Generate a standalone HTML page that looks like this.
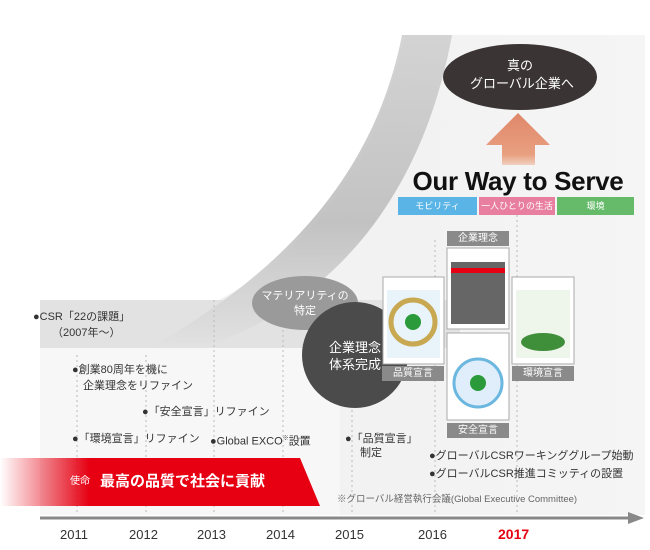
<!DOCTYPE html>
<html><head><meta charset="utf-8">
<style>
body{margin:0;width:650px;height:550px;overflow:hidden;background:#fff;font-family:"Liberation Sans","Noto Sans CJK JP",sans-serif;}
.t{position:absolute;font-size:11px;color:#333;white-space:nowrap;line-height:14px}
.lb{position:absolute;background:#8a8a8a;color:#fff;font-size:10px;text-align:center;line-height:15px}
.y{position:absolute;top:527px;font-size:13px;color:#333}
</style></head><body>
<svg width="650" height="550" style="position:absolute;left:0;top:0">
<defs>
<linearGradient id="g1" x1="0" y1="0" x2="1" y2="0"><stop offset="0" stop-color="#eeeeee"/><stop offset="1" stop-color="#f5f5f5"/></linearGradient>
<linearGradient id="red" x1="0" y1="0" x2="1" y2="0"><stop offset="0" stop-color="#e60012" stop-opacity="0"/><stop offset="0.28" stop-color="#e60012"/><stop offset="1" stop-color="#e60012"/></linearGradient>
<linearGradient id="arr" x1="0" y1="0" x2="0" y2="1"><stop offset="0" stop-color="#e0876a"/><stop offset="0.8" stop-color="#e8a080"/><stop offset="1" stop-color="#f0d0c0"/></linearGradient>
<linearGradient id="band" x1="0" y1="0" x2="0" y2="1"><stop offset="0" stop-color="#d0d0d0"/><stop offset="0.6" stop-color="#bdbdbd"/><stop offset="1" stop-color="#e2e2e2"/></linearGradient>
</defs>
<path d="M405,35 L645,35 L645,515 L40,515 L40,350 C240,330 360,230 405,35 Z" fill="url(#g1)"/>
<rect x="40" y="348" width="300" height="167" fill="#f7f7f7"/>
<rect x="40" y="300" width="420" height="48" fill="#e2e2e2"/>
<path d="M150,348 C250,290 370,200 402,35 L452,35 C420,210 320,310 200,348 Z" fill="url(#band)" opacity="0.9"/>
<g stroke="#bbb" stroke-dasharray="2,3" stroke-width="1">
<line x1="77" y1="355" x2="77" y2="515"/><line x1="146" y1="355" x2="146" y2="515"/>
<line x1="214" y1="300" x2="214" y2="515"/><line x1="283" y1="300" x2="283" y2="515"/>
<line x1="352" y1="300" x2="352" y2="515"/><line x1="435" y1="240" x2="435" y2="515"/>
<line x1="517" y1="215" x2="517" y2="515"/>
</g>
<path d="M0,458 L300,458 L320,506 L0,506 Z" fill="url(#red)"/>
<line x1="40" y1="518" x2="632" y2="518" stroke="#888" stroke-width="3"/>
<path d="M628,512 L644,518 L628,524 Z" fill="#888"/>
<ellipse cx="305" cy="303" rx="53" ry="27" fill="#9a9a9a"/>
<circle cx="355" cy="355" r="53" fill="#4b4b4b"/>
<ellipse cx="520" cy="77" rx="77" ry="33" fill="#3a3434"/>
<path d="M486,145 L518,113 L550,145 L535,145 L535,165 L502,165 L502,145 Z" fill="url(#arr)"/>
<rect x="398" y="197" width="79" height="18" fill="#5ab4e5"/>
<rect x="479" y="197" width="76" height="18" fill="#e87fa0"/>
<rect x="557" y="197" width="77" height="18" fill="#66bb6a"/>
<rect x="383" y="277" width="61" height="87" fill="#fff" stroke="#aaa"/>
<rect x="387" y="290" width="53" height="68" fill="#e8f3fa"/>
<circle cx="413" cy="322" r="22" fill="none" stroke="#c8a850" stroke-width="5"/>
<circle cx="413" cy="322" r="8" fill="#2a9a3a"/>
<rect x="447" y="248" width="62" height="81" fill="#fff" stroke="#aaa"/>
<rect x="451" y="262" width="54" height="62" fill="#666"/>
<rect x="451" y="268" width="54" height="5" fill="#e60012"/>
<rect x="447" y="333" width="62" height="87" fill="#fff" stroke="#aaa"/>
<circle cx="478" cy="383" r="24" fill="#dfeefa" stroke="#6bb7e0" stroke-width="3"/>
<circle cx="478" cy="383" r="8" fill="#2a9a3a"/>
<rect x="512" y="277" width="62" height="87" fill="#fff" stroke="#aaa"/>
<rect x="516" y="290" width="54" height="68" fill="#eef6ec"/>
<ellipse cx="543" cy="342" rx="22" ry="9" fill="#3e8e3a"/>
</svg>
<div class="lb" style="left:382px;top:366px;width:62px">品質宣言</div>
<div class="lb" style="left:447px;top:231px;width:62px">企業理念</div>
<div class="lb" style="left:447px;top:423px;width:62px">安全宣言</div>
<div class="lb" style="left:512px;top:366px;width:62px">環境宣言</div>
<div class="t" style="left:470px;top:57px;width:100px;text-align:center;color:#fff;font-size:13px;line-height:18px">真の<br>グローバル企業へ</div>
<div style="position:absolute;left:400px;top:166px;width:236px;text-align:center;font-size:26px;font-weight:bold;color:#111;letter-spacing:-0.3px">Our Way to Serve</div>
<div class="t" style="left:398px;top:199px;width:79px;text-align:center;color:#fff;font-size:9px">モビリティ</div>
<div class="t" style="left:479px;top:199px;width:76px;text-align:center;color:#fff;font-size:9px">一人ひとりの生活</div>
<div class="t" style="left:557px;top:199px;width:77px;text-align:center;color:#fff;font-size:9px">環境</div>
<div class="t" style="left:252px;top:289px;width:106px;text-align:center;color:#fff;font-size:11px;line-height:15px">マテリアリティの<br>特定</div>
<div class="t" style="left:302px;top:339px;width:106px;text-align:center;color:#fff;font-size:13px;line-height:17px">企業理念<br>体系完成</div>
<div class="t" style="left:33px;top:310px">●CSR「22の課題」</div>
<div class="t" style="left:52px;top:326px">（2007年～）</div>
<div class="t" style="left:72px;top:363px">●創業80周年を機に</div>
<div class="t" style="left:83px;top:379px">企業理念をリファイン</div>
<div class="t" style="left:142px;top:405px">●「安全宣言」リファイン</div>
<div class="t" style="left:72px;top:432px">●「環境宣言」リファイン</div>
<div class="t" style="left:210px;top:432px">●Global EXCO<sup style="font-size:6px">※</sup>設置</div>
<div class="t" style="left:345px;top:432px">●「品質宣言」</div>
<div class="t" style="left:360px;top:446px">制定</div>
<div class="t" style="left:429px;top:449px">●グローバルCSRワーキンググループ始動</div>
<div class="t" style="left:429px;top:467px">●グローバルCSR推進コミッティの設置</div>
<div class="t" style="left:337px;top:493px;font-size:9.5px;color:#666">※グローバル経営執行会議(Global Executive Committee)</div>
<div class="t" style="left:70px;top:475px;color:#fff;font-size:10px">使命</div>
<div class="t" style="left:100px;top:473px;color:#fff;font-size:15px;font-weight:bold;line-height:18px">最高の品質で社会に貢献</div>
<div class="y" style="left:60px">2011</div>
<div class="y" style="left:129px">2012</div>
<div class="y" style="left:197px">2013</div>
<div class="y" style="left:266px">2014</div>
<div class="y" style="left:335px">2015</div>
<div class="y" style="left:418px">2016</div>
<div class="y" style="left:498px;color:#e60012;font-weight:bold;font-size:14px;top:526px">2017</div>
</body></html>
